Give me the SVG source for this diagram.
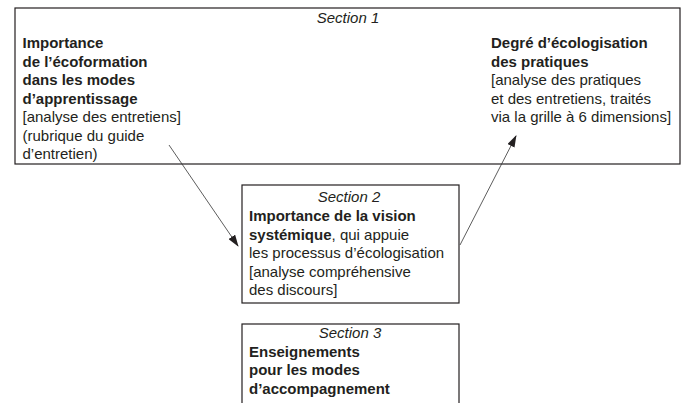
<svg xmlns="http://www.w3.org/2000/svg" width="686" height="403" viewBox="0 0 686 403">
<style>
.box{fill:#fff;stroke:#231f20;stroke-width:1.2}
text{font-family:"Liberation Sans",Arial,sans-serif;font-size:15px;fill:#231f20}
.it{font-style:italic}
.b{font-weight:bold}
.mid{text-anchor:middle}
.con{stroke:#333;stroke-width:0.8;fill:none}
</style>
<defs>
<marker id="ah" viewBox="0 0 12 8" refX="11" refY="4" markerWidth="12" markerHeight="8" markerUnits="userSpaceOnUse" orient="auto">
<path d="M0,0 L12,4 L0,8 Z" fill="#231f20"/>
</marker>
</defs>
<rect x="0" y="0" width="686" height="403" fill="#fff"/>
<g id="section1">
<rect class="box" x="15" y="8" width="665" height="156"/>
<text class="it mid" x="348" y="23">Section 1</text>
<text x="22.5" y="48" class="b">Importance</text>
<text x="22.5" y="66.5" class="b">de l’écoformation</text>
<text x="22.5" y="85" class="b">dans les modes</text>
<text x="22.5" y="103.5" class="b">d’apprentissage</text>
<text x="22.5" y="122">[analyse des entretiens]</text>
<text x="22.5" y="140.5">(rubrique du guide</text>
<text x="22.5" y="159">d’entretien)</text>
<text x="491" y="48" class="b">Degré d’écologisation</text>
<text x="491" y="66.5" class="b">des pratiques</text>
<text x="491" y="85">[analyse des pratiques</text>
<text x="491" y="103.5">et des entretiens, traités</text>
<text x="491" y="122">via la grille à 6 dimensions]</text>
</g>
<g id="section2">
<rect class="box" x="242" y="185" width="217" height="118"/>
<text class="it mid" x="349" y="202">Section 2</text>
<text x="249" y="221" class="b">Importance de la vision</text>
<text x="249" y="239.5"><tspan class="b">systémique</tspan>, qui appuie</text>
<text x="249" y="258">les processus d’écologisation</text>
<text x="249" y="276.5">[analyse compréhensive</text>
<text x="249" y="295">des discours]</text>
</g>
<g id="section3">
<rect class="box" x="242" y="324" width="217" height="90"/>
<text class="it mid" x="350" y="338">Section 3</text>
<text x="249" y="356.5" class="b">Enseignements</text>
<text x="249" y="375" class="b">pour les modes</text>
<text x="249" y="393.5" class="b">d’accompagnement</text>
</g>
<g id="connectors">
<line class="con" x1="169" y1="145" x2="238" y2="246" marker-end="url(#ah)"/>
<line class="con" x1="460" y1="245" x2="516" y2="136" marker-end="url(#ah)"/>
</g>
</svg>
